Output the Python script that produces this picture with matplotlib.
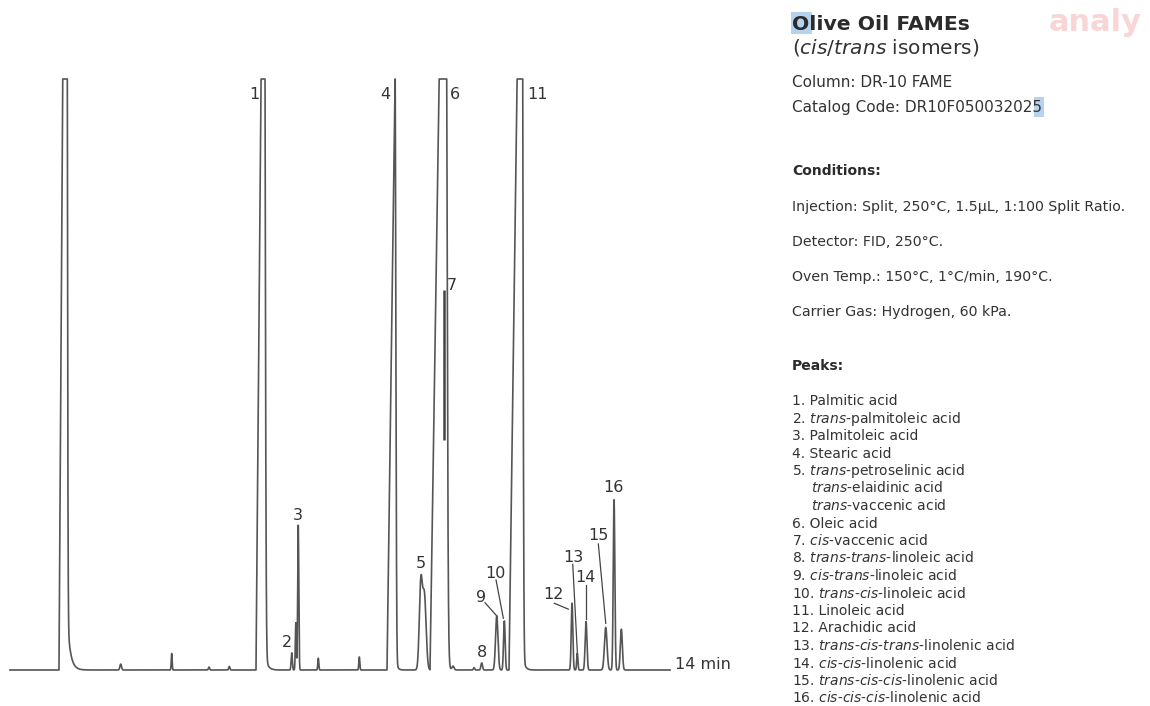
import numpy as np
import matplotlib.pyplot as plt
from matplotlib.patches import Rectangle

plt.rcParams['mathtext.fontset'] = 'dejavusans'

# ---- chromatogram data (time in min, signal in % of full scale) ----
# off-scale peaks: linear fronting ramp, gaussian falling edge, exponential tail
big_label = ['', '1', '4', '6', '11']
big_apex = [1.196, 5.388, 8.167, 9.234, 10.857]
big_height = [200, 160, 100, 170, 160]
big_front = [0.157, 0.170, 0.170, 0.325, 0.272]
big_fall = [0.0161, 0.0219, 0.0170, 0.0289, 0.0197]
big_tail = [12, 4, 3, 3, 4]
big_tau = [0.064, 0.053, 0.032, 0.042, 0.042]

# on-scale peaks
peak_label = ['', '', '', '', '2', '', '3', '', '', '5', '', '', '',
              '8', '9', '10', '12', '13', '14', '15', '16', '']
peak_time = [2.348, 3.430, 4.221, 4.652, 5.976, 6.063, 6.114, 6.540, 7.410,
             8.714, 8.790, 9.398, 9.843, 10.006, 10.325, 10.486, 11.922,
             12.034, 12.219, 12.637, 12.813, 12.968]
peak_height = [1.0, 2.8, 0.5, 0.6, 2.9, 8.0, 24.5, 2.0, 2.2,
               14.5, 12.5, 0.6, 0.4, 1.2, 9.2, 8.3, 11.3,
               2.9, 8.2, 7.2, 28.8, 6.9]
peak_sigma = [0.017, 0.0095, 0.0127, 0.0127, 0.0127, 0.0106, 0.0117, 0.0106, 0.0106,
              0.0318, 0.036, 0.021, 0.013, 0.017, 0.0255, 0.017, 0.017,
              0.0127, 0.019, 0.0276, 0.017, 0.0212]

# peak 7 sits on the falling flank of peak 6
p7_time = 9.207
p7_top = 64.3
p7_foot = 38.9

t = np.linspace(0, 14, 14001)
signal = np.zeros_like(t)
for c, h, w, s, a, tau in zip(big_apex, big_height, big_front, big_fall, big_tail, big_tau):
    left = h * np.clip((t - c + w) / w, 0, None)
    right = h * np.exp(-0.5 * ((t - c) / s) ** 2)
    signal += np.where(t <= c, left, right)
    signal += np.where(t > c, a * np.exp(-np.clip(t - c, 0, None) / tau), 0)
for c, h, s in zip(peak_time, peak_height, peak_sigma):
    signal += h * np.exp(-0.5 * ((t - c) / s) ** 2)
trace = np.minimum(signal, 100)

W, H = 1150, 706
fig = plt.figure(figsize=(W / 100, H / 100), dpi=100)
ax = fig.add_axes([10 / W, 36 / H, 660 / W, 591 / H])
ax.set_xlim(0, 14)
ax.set_ylim(0, 100)
ax.axis('off')

line_col = '#555555'
ax.plot(t, trace, color=line_col, lw=1.2, clip_on=False)
ax.plot([p7_time, p7_time], [p7_foot, p7_top], color='#444444', lw=1.8,
        solid_capstyle='butt', clip_on=False)

lab = dict(fontsize=11.5, color='#333333', ha='center', va='center')
# labels for the off-scale peaks sit beside the clipped tops
ax.text(5.176, 97.3, '1', **lab)
ax.text(7.955, 97.3, '4', **lab)
ax.text(9.440, 97.3, '6', **lab)
ax.text(11.179, 97.3, '11', **lab)
ax.text(9.376, 65.1, '7', **lab)
ax.text(5.876, 4.7, '2', **lab)
ax.text(6.109, 26.1, '3', **lab)
ax.text(8.719, 18.1, '5', **lab)
ax.text(10.013, 3.0, '8', **lab)
ax.text(12.795, 30.8, '16', **lab)

# labels with leader lines
leaders = [('9', 9.992, 12.35, 10.075, 11.39),
           ('10', 10.289, 16.4, 10.310, 15.23),
           ('12', 11.519, 12.7, 11.546, 11.29),
           ('13', 11.943, 19.1, 11.937, 17.88),
           ('14', 12.198, 15.7, 12.219, 14.38),
           ('15', 12.474, 22.8, 12.480, 21.32)]
lead_end = {'9': (-0.017, 0.1), '10': (-0.021, 0.45), '12': (-0.079, -1.0),
            '13': (0.0, 0.2), '14': (0.0, 0.4), '15': (0.0, 0.7)}
for name, lx, ly, sx, sy in leaders:
    i = peak_label.index(name)
    dx, dy = lead_end[name]
    ax.text(lx, ly, name, **lab)
    ax.plot([sx, peak_time[i] + dx], [sy, peak_height[i] + dy],
            color='#444444', lw=0.9, clip_on=False)

ax.text(14.107, 0.85, '14 min', fontsize=11.5, color='#333333', ha='left', va='center')

# ---- description panel ----
def ftext(x, y, s, **kw):
    return fig.text(x / W, 1 - y / H, s, va='baseline', **kw)

def fbox(x0, y0, x1, y1, color):
    fig.add_artist(Rectangle((x0 / W, 1 - y1 / H), (x1 - x0) / W, (y1 - y0) / H,
                             transform=fig.transFigure, color=color, lw=0, zorder=0))

fbox(791, 12, 812, 34, '#b5d3ee')
fbox(1034, 97, 1044, 117, '#b5d3ee')

ftext(1049, 31, 'analy', fontsize=22, fontweight='bold', color='#f9d6d5')

dark = '#2b2b2b'
txt = '#333333'
ftext(792, 30, 'Olive Oil FAMEs', fontsize=14.7, fontweight='bold', color=dark)
ftext(792, 53, r'($\it{cis/trans}$ isomers)', fontsize=14.5, color=txt)
ftext(792, 87, 'Column: DR-10 FAME', fontsize=11, color=txt)
ftext(792, 112, 'Catalog Code: DR10F050032025', fontsize=11, color=txt)

ftext(792, 175, 'Conditions:', fontsize=10, fontweight='bold', color=dark)
conditions = ['Injection: Split, 250°C, 1.5µL, 1:100 Split Ratio.',
              'Detector: FID, 250°C.',
              'Oven Temp.: 150°C, 1°C/min, 190°C.',
              'Carrier Gas: Hydrogen, 60 kPa.']
for k, s in enumerate(conditions):
    ftext(792, 211 + 35 * k, s, fontsize=10.2, color=txt)

ftext(792, 370, 'Peaks:', fontsize=10, fontweight='bold', color=dark)
compounds = [
    ['Palmitic acid'],
    [r'$\it{trans}$-palmitoleic acid'],
    ['Palmitoleic acid'],
    ['Stearic acid'],
    [r'$\it{trans}$-petroselinic acid', r'$\it{trans}$-elaidinic acid',
     r'$\it{trans}$-vaccenic acid'],
    ['Oleic acid'],
    [r'$\it{cis}$-vaccenic acid'],
    [r'$\it{trans}$-$\it{trans}$-linoleic acid'],
    [r'$\it{cis}$-$\it{trans}$-linoleic acid'],
    [r'$\it{trans}$-$\it{cis}$-linoleic acid'],
    ['Linoleic acid'],
    ['Arachidic acid'],
    [r'$\it{trans}$-$\it{cis}$-$\it{trans}$-linolenic acid'],
    [r'$\it{cis}$-$\it{cis}$-linolenic acid'],
    [r'$\it{trans}$-$\it{cis}$-$\it{cis}$-linolenic acid'],
    [r'$\it{cis}$-$\it{cis}$-$\it{cis}$-linolenic acid'],
]
row = 0
for n, names in enumerate(compounds, start=1):
    for j, s in enumerate(names):
        y = 405 + 17.5 * row
        if j == 0:
            ftext(792, y, f'{n}. ' + s, fontsize=10, color=txt)
        else:
            ftext(811, y, s, fontsize=10, color=txt)
        row += 1

fig.savefig('out.png', dpi=100)
